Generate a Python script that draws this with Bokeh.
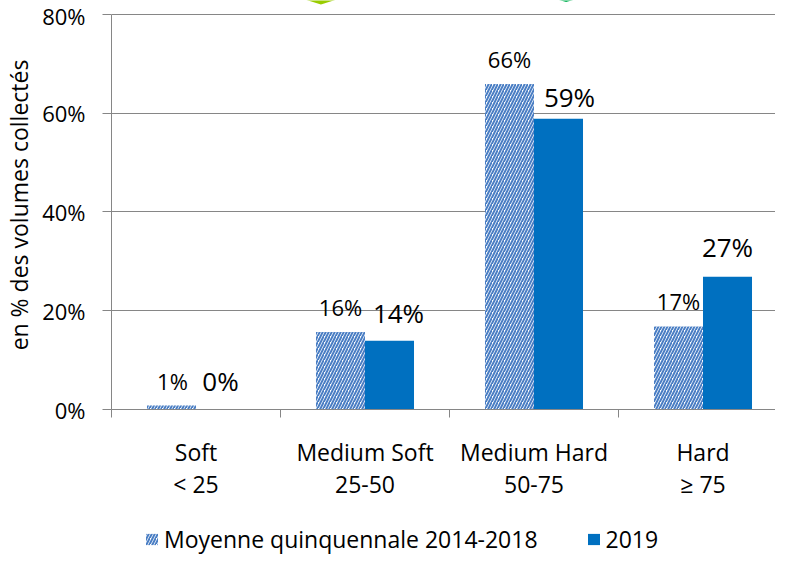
from bokeh.plotting import figure
from bokeh.layouts import column
from bokeh.models import (FixedTicker, NumeralTickFormatter, Legend, LegendItem,
                          ColumnDataSource, Range1d)
from bokeh.core.properties import value
from bokeh.embed import file_html
from bokeh.resources import INLINE

# ---------------- data ----------------
categories = ["Soft\n< 25", "Medium Soft\n25-50", "Medium Hard\n50-75", "Hard\n\u2265 75"]
series_names = ["Moyenne quinquennale 2014-2018", "2019"]
avg_2014_2018 = [0.008, 0.157, 0.659, 0.168]
year_2019 = [0.0, 0.139, 0.589, 0.269]
y_ticks = [0.0, 0.2, 0.4, 0.6, 0.8]
y_title = "en % des volumes collectés"

# ---------------- style ----------------
FONT = "Open Sans"
GRID = "#868686"
HATCH_COLOR = "#4A7EC4"
SOLID_COLOR = "#0070C0"
BAR_W = 0.29
AVG_STYLE = dict(fill_color="white", line_color=None, hatch_pattern="/",
                 hatch_color=HATCH_COLOR, hatch_weight=2, hatch_scale=6)
Y19_STYLE = dict(fill_color=SOLID_COLOR, line_color=None)
# label nudges in screen px (dx, dy)
avg_dx = [1, 0, 0, 0]
avg_dy = [-25, -25, -25, -26]
y19_dx = [0, 9, 11, 0]
y19_dy = [-29, -28, -22, -30]

centers = [i + 0.5 for i in range(len(categories))]
bounds_ticks = [float(i) for i in range(len(categories) + 1)]

MAIN_H = 509
LEG_H = 555 - MAIN_H

p = figure(width=775, height=MAIN_H, output_backend="svg", toolbar_location=None,
           x_range=Range1d(0, 3.929), y_range=Range1d(0, 0.82835),
           min_border_left=109, min_border_right=0, min_border_top=0,
           min_border_bottom=MAIN_H - 409)
p.outline_line_color = None
p.background_fill_color = "white"
p.border_fill_color = "white"

src_avg = ColumnDataSource(dict(
    x=[c - BAR_W / 2 for c in centers], top=avg_2014_2018,
    txt=[f"{round(v * 100):.0f}%" for v in avg_2014_2018],
    dx=avg_dx, dy=avg_dy))
src_19 = ColumnDataSource(dict(
    x=[c + BAR_W / 2 for c in centers], top=year_2019,
    txt=[f"{round(v * 100):.0f}%" for v in year_2019],
    dx=y19_dx, dy=y19_dy))

p.vbar(x="x", top="top", bottom=0, width=BAR_W, source=src_avg, **AVG_STYLE)
p.vbar(x="x", top="top", bottom=0, width=BAR_W, source=src_19, **Y19_STYLE)

p.text(x="x", y="top", text="txt", source=src_avg, x_offset="dx", y_offset="dy",
       text_align="center", text_baseline="middle", text_font=value(FONT),
       text_font_size="22px", text_color="black")
p.text(x="x", y="top", text="txt", source=src_19, x_offset="dx", y_offset="dy",
       text_align="center", text_baseline="middle", text_font=value(FONT),
       text_font_size="26px", text_color="black")

# decorative arrow tips (cut-off graphic above the chart)
p.patch(x=[1.239 - 0.184, 1.239, 1.239 + 0.184], y=[0.84, 0.8203, 0.84],
        fill_color="#99CC00", line_color=None)
p.patch(x=[2.690 - 0.15, 2.690, 2.690 + 0.15], y=[0.84, 0.8253, 0.84],
        fill_color="#00B050", line_color=None)

# grid
p.xgrid.visible = False
p.ygrid.ticker = FixedTicker(ticks=y_ticks[1:])
p.ygrid.grid_line_color = GRID
p.ygrid.grid_line_width = 1

# y axis
ya = p.yaxis[0]
ya.ticker = FixedTicker(ticks=y_ticks)
ya.formatter = NumeralTickFormatter(format="0%")
ya.bounds = (0, 0.8)
ya.axis_line_color = GRID
ya.major_tick_line_color = GRID
ya.major_tick_out = 9
ya.major_tick_in = 0
ya.minor_tick_line_color = None
ya.major_label_standoff = 17
ya.major_label_text_font = FONT
ya.major_label_text_font_size = "22px"
ya.major_label_text_color = "black"
ya.axis_label = y_title
ya.axis_label_text_font = FONT
ya.axis_label_text_font_size = "23px"
ya.axis_label_text_font_style = "normal"
ya.axis_label_text_color = "black"
ya.axis_label_standoff = 4

# x axis
xa = p.xaxis[0]
xa.ticker = FixedTicker(ticks=centers, minor_ticks=bounds_ticks)
xa.major_label_overrides = {c: lab for c, lab in zip(centers, categories)}
xa.axis_line_color = GRID
xa.major_tick_line_color = None
xa.major_tick_out = 0
xa.major_tick_in = 0
xa.minor_tick_line_color = GRID
xa.minor_tick_out = 8
xa.minor_tick_in = 0
xa.major_label_standoff = 18
xa.major_label_text_font = FONT
xa.major_label_text_font_size = "23px"
xa.major_label_text_color = "black"
xa.major_label_text_line_height = 1.0

# ---------------- legend strip (same series, out of view) ----------------
pl = figure(width=775, height=LEG_H, output_backend="svg", toolbar_location=None,
            x_range=Range1d(0, 1), y_range=Range1d(10, 11),
            x_axis_location=None, y_axis_location=None,
            min_border_left=0, min_border_right=0, min_border_top=0,
            min_border_bottom=0)
pl.grid.visible = False
pl.outline_line_color = None
l_avg = pl.vbar(x="x", top="top", bottom=0, width=BAR_W, source=src_avg, **AVG_STYLE)
l_19 = pl.vbar(x="x", top="top", bottom=0, width=BAR_W, source=src_19, **Y19_STYLE)
legend = Legend(items=[LegendItem(label=series_names[0], renderers=[l_avg], index=0),
                       LegendItem(label=series_names[1], renderers=[l_19], index=0)],
                location=(33, 0), orientation="horizontal",
                padding=0, margin=0, spacing=48, glyph_width=15, glyph_height=14,
                label_standoff=5, label_text_font=FONT, label_text_font_size="23px",
                label_text_color="black", border_line_color=None,
                background_fill_alpha=0)
pl.add_layout(legend)

layout = column(p, pl, spacing=0)
open("out.html", "w").write(file_html(layout, INLINE))
